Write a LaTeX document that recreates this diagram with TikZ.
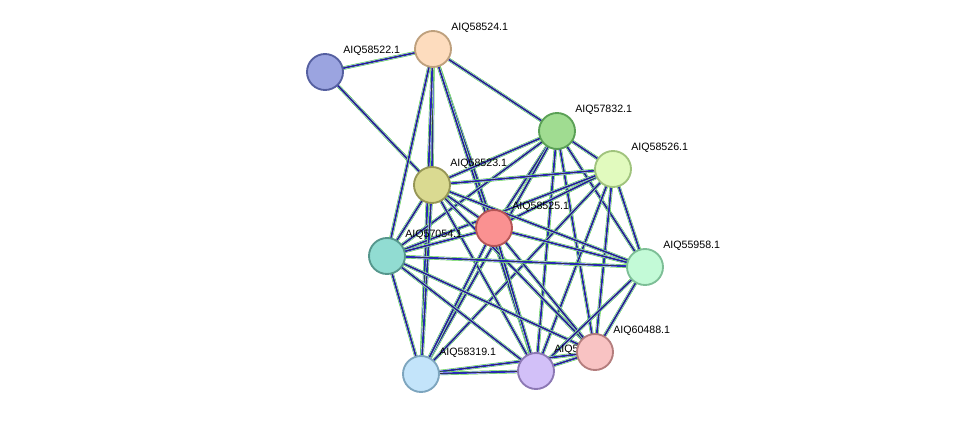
\documentclass[tikz,border=0pt]{standalone}
\usepackage{fontspec}
\setmainfont{Liberation Sans}
\usetikzlibrary{calc}

\definecolor{c22}{RGB}{155,164,224}\definecolor{d22}{RGB}{85,95,160}
\definecolor{c24}{RGB}{253,220,190}\definecolor{d24}{RGB}{190,160,125}
\definecolor{c32}{RGB}{160,220,145}\definecolor{d32}{RGB}{90,160,85}
\definecolor{c26}{RGB}{225,250,190}\definecolor{d26}{RGB}{160,195,125}
\definecolor{c23}{RGB}{218,218,145}\definecolor{d23}{RGB}{150,150,85}
\definecolor{c25}{RGB}{250,145,145}\definecolor{d25}{RGB}{180,85,85}
\definecolor{c54}{RGB}{145,220,210}\definecolor{d54}{RGB}{85,150,140}
\definecolor{c58}{RGB}{195,250,215}\definecolor{d58}{RGB}{125,190,150}
\definecolor{c21}{RGB}{210,192,248}\definecolor{d21}{RGB}{140,120,180}
\definecolor{c88}{RGB}{248,195,195}\definecolor{d88}{RGB}{180,125,125}
\definecolor{c19}{RGB}{195,228,250}\definecolor{d19}{RGB}{125,165,190}
\definecolor{lgreen}{RGB}{60,200,40}
\definecolor{lblue}{RGB}{40,40,230}

\tikzset{
  prot/.style={circle, minimum size=36*0.0264cm, inner sep=0pt, line width=1.4pt},
  lbl/.style={anchor=west, inner sep=0pt, font=\fontsize{8}{9}\selectfont},
  link/.style={draw=black!80, line width=0.45pt,
    preaction={draw=lgreen, line width=2.6pt},
    preaction={draw=white, line width=1.9pt},
    preaction={draw=lblue, line width=1.4pt}}
}

\begin{document}
\begin{tikzpicture}[x=0.0264cm, y=-0.0264cm]
  \useasboundingbox (0,0) rectangle (976,420);

  % positions
  \coordinate (p22) at (325,72);
  \coordinate (p24) at (433,49);
  \coordinate (p32) at (557,131);
  \coordinate (p26) at (613,169);
  \coordinate (p23) at (432,185);
  \coordinate (p25) at (494,228);
  \coordinate (p54) at (387,256);
  \coordinate (p58) at (645,267);
  \coordinate (p88) at (595,352);
  \coordinate (p21) at (536,371);
  \coordinate (p19) at (421,374);

  % links
  \foreach \a/\b in {22/24,22/23,24/23,24/32,24/25,24/54,24/19,24/21,
      32/26,32/23,32/25,32/54,32/19,32/21,32/88,32/58,
      26/23,26/25,26/54,26/58,26/88,26/21,26/19,
      23/25,23/54,23/58,23/88,23/21,23/19,
      25/54,25/58,25/88,25/21,25/19,
      54/58,54/88,54/21,54/19,
      58/88,58/21,88/21,88/19,21/19}
    \draw[link] (p\a) -- (p\b);

  % proteins
  \foreach \n/\t in {22/AIQ58522.1, 24/AIQ58524.1, 32/AIQ57832.1,
      26/AIQ58526.1, 23/AIQ58523.1, 25/AIQ58525.1, 54/AIQ57054.1,
      58/AIQ55958.1, 21/AIQ58521.1, 88/AIQ60488.1, 19/AIQ58319.1}
  {
    \node[prot, fill=c\n, draw=d\n] (n\n) at (p\n) {};
    \node[lbl] (l\n) at ($(p\n)+(18,-21)$) {\t};
  }
\end{tikzpicture}
\end{document}
